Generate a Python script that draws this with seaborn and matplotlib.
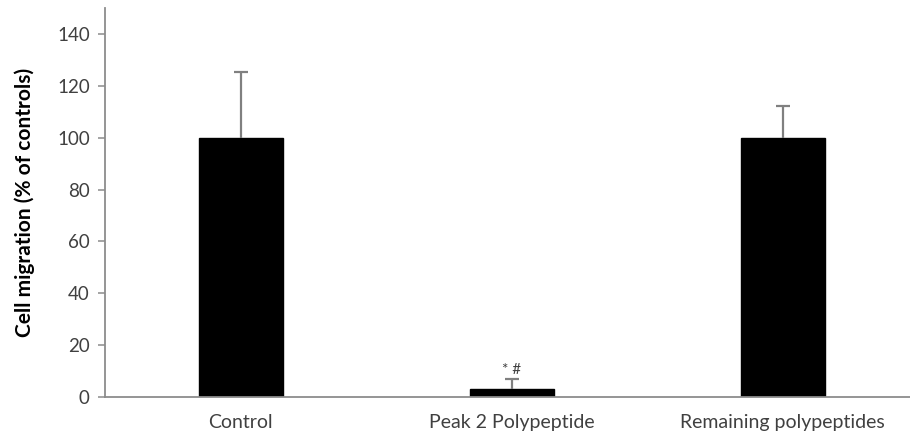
import matplotlib
matplotlib.use("Agg")
import matplotlib.pyplot as plt
import seaborn as sns
import pandas as pd

categories = ["Control", "Peak 2 Polypeptide", "Remaining polypeptides"]
values = [100, 3.2, 100]
errors_up = [25.5, 3.6, 12.2]
annotations = ["", "* #", ""]

sns.set_theme(style="white")
plt.rcParams['font.family'] = ['Lato', 'DejaVu Sans']

df = pd.DataFrame({"cat": categories, "val": values})

fig = plt.figure(figsize=(9.1, 4.38), dpi=100)
ax = fig.add_axes([0.1154, 0.0936, 0.8846, 0.8881])

sns.barplot(data=df, x="cat", y="val", color="black", width=0.31,
            saturation=1, errorbar=None, ax=ax, edgecolor="black")

eb = ax.errorbar(range(len(categories)), values,
                 yerr=[[0] * len(values), errors_up], fmt="none",
                 ecolor="#808080", elinewidth=1.6, capsize=5, capthick=1.6, zorder=3)
# only top caps
eb[1][0].set_visible(False)

for i, t in enumerate(annotations):
    if t:
        ax.text(i, values[i] + errors_up[i] + 1.0, t, ha="center", va="bottom",
                fontsize=11, color="#404040")

ax.set_ylim(0, 150)
ax.set_xlim(-0.5, 2.47)
ax.set_yticks(range(0, 141, 20))
ax.set_xlabel("")
ax.set_ylabel("Cell migration (% of controls)", fontsize=15, fontweight="bold",
              color="black", labelpad=16)

for s in ["top", "right"]:
    ax.spines[s].set_visible(False)
for s in ["left", "bottom"]:
    ax.spines[s].set_color("#8c8c8c")
    ax.spines[s].set_linewidth(1.3)

ax.tick_params(axis="y", which="both", left=True, length=5, width=1.1,
               color="#8c8c8c", labelsize=13.5, labelcolor="#404040", pad=6)
ax.tick_params(axis="x", bottom=False, labelsize=14, labelcolor="#404040", pad=6)

fig.savefig("out.png", dpi=100)
